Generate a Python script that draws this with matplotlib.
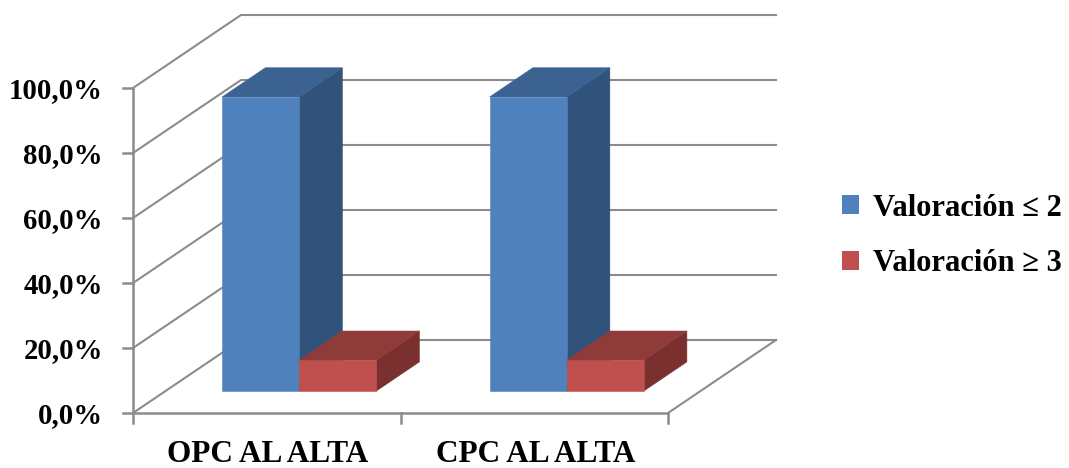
import matplotlib
matplotlib.use("Agg")
import matplotlib.pyplot as plt
from matplotlib.patches import Polygon, Patch

plt.rcParams['font.family'] = ['Liberation Serif', 'DejaVu Serif']
plt.rcParams['font.weight'] = 'bold'

categorias = ["OPC AL ALTA", "CPC AL ALTA"]
series = ["Valoración ≤ 2", "Valoración ≥ 3"]
valoracion_baja = [90.5, 90.5]
valoracion_alta = [9.5, 9.5]
ticks_y = [0, 20, 40, 60, 80, 100]
etiquetas_y = ["0,0%", "20,0%", "40,0%", "60,0%", "80,0%", "100,0%"]

colores_frente = ["#4F81BD", "#C0504D"]
colores_arriba = ["#3B6291", "#8F3B39"]
colores_lado = ["#31527A", "#7A302E"]
gris_eje = "#8C8C8C"

# caja 3D en pixeles: origen, tamano del frente y desplazamiento de fondo
X0, Y0 = 133, 413
ANCHO_CAT = 267.5
ALTO = 325
DX, DY = 108, -73
ANCHO_BARRA = 0.288   # en unidades de categoria
PROF_INI, PROF_FIN = 0.30, 0.70


def proy(c, v, p):
    # c: categoria, v: porcentaje, p: profundidad 0-1
    return (X0 + c * ANCHO_CAT + p * DX, Y0 - v / 100 * ALTO + p * DY)


def barra(ax, c0, c1, v, i):
    z = 3 + c0
    frente = [proy(c0, 0, PROF_INI), proy(c1, 0, PROF_INI), proy(c1, v, PROF_INI), proy(c0, v, PROF_INI)]
    arriba = [proy(c0, v, PROF_INI), proy(c1, v, PROF_INI), proy(c1, v, PROF_FIN), proy(c0, v, PROF_FIN)]
    lado = [proy(c1, 0, PROF_INI), proy(c1, 0, PROF_FIN), proy(c1, v, PROF_FIN), proy(c1, v, PROF_INI)]
    ax.add_patch(Polygon(lado, fc=colores_lado[i], ec=colores_lado[i], lw=0.4, zorder=z))
    ax.add_patch(Polygon(arriba, fc=colores_arriba[i], ec=colores_arriba[i], lw=0.4, zorder=z))
    ax.add_patch(Polygon(frente, fc=colores_frente[i], ec=colores_frente[i], lw=0.4, zorder=z))


fig = plt.figure(figsize=(10.69, 4.68), dpi=100)
ax = fig.add_axes([0, 0, 1, 1])
ax.set_xlim(0, 1069)
ax.set_ylim(468, 0)
ax.axis("off")

n = len(categorias)

# rejilla de la pared izquierda y del fondo
for t in ticks_y:
    esquina = proy(0, t, 1)
    inicio = proy(0, t, 0)
    fin = proy(n, t, 1)
    ax.plot([inicio[0], esquina[0], fin[0]], [inicio[1], esquina[1], fin[1]], color=gris_eje, lw=1.5, zorder=1)

# suelo
a = proy(n, 0, 0)
b = proy(n, 0, 1)
ax.plot([a[0], b[0]], [a[1], b[1]], color=gris_eje, lw=1.5, zorder=1)
ax.plot([proy(0, 0, 0)[0], a[0]], [Y0, Y0], color=gris_eje, lw=1.8, zorder=2)

# eje vertical con sus marcas
ax.plot([X0, X0], [proy(0, 0, 0)[1], proy(0, 100, 0)[1]], color=gris_eje, lw=1.8, zorder=2)
for t, etiqueta in zip(ticks_y, etiquetas_y):
    x, y = proy(0, t, 0)
    ax.plot([x - 10, x], [y, y], color=gris_eje, lw=1.8, zorder=2)
    ax.text(x - 30, y + 3, etiqueta, ha="right", va="center", fontsize=20.7, color="black")

# marcas y etiquetas de categoria
for c in range(n + 1):
    x, y = proy(c, 0, 0)
    ax.plot([x, x], [y, y + 10], color=gris_eje, lw=1.8, zorder=2)
for c, nombre in enumerate(categorias):
    x, y = proy(c + 0.5, 0, 0)
    ax.text(x + 1, y + 41, nombre, ha="center", va="center", fontsize=22.5, color="black")

# barras
for c in range(n):
    medio = c + 0.5
    barra(ax, medio - ANCHO_BARRA, medio, valoracion_baja[c], 0)
    barra(ax, medio, medio + ANCHO_BARRA, valoracion_alta[c], 1)

handles = [Patch(fc=colores_frente[i], ec="none", label=series[i]) for i in range(2)]
ax.legend(handles=handles, loc="center left", bbox_to_anchor=(842 / 1069, 1 - 236 / 468),
          frameon=False, fontsize=22, handlelength=0.57, handleheight=0.57,
          handletextpad=0.46, labelspacing=0.88, borderpad=0, borderaxespad=0)

fig.savefig("out.png", dpi=100)
